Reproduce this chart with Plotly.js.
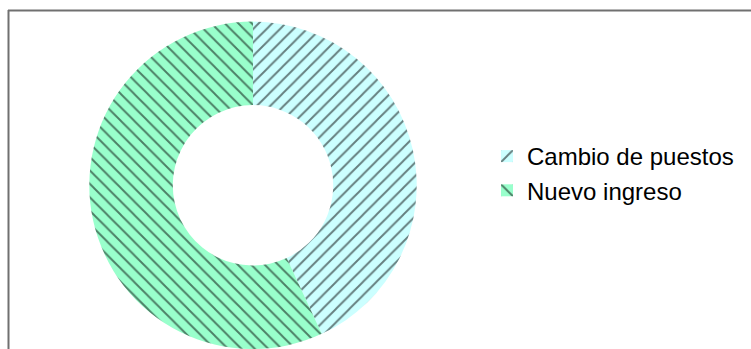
<!DOCTYPE html>
<html>
<head>
<meta charset="utf-8">
<script src="https://cdn.plot.ly/plotly-3.0.1.min.js"></script>
<style>html,body{margin:0;padding:0;background:#fff}#chart{width:751px;height:349px}</style>
</head>
<body>
<div id="chart"></div>
<script>
const categories = ["Cambio de puestos", "Nuevo ingreso"];
const values = [43.1, 56.9];
const sliceColors = ["#ccffff", "#99ffcc"];
const slicePatterns = ["/", "\\"];

const W = 751, H = 349;
const trace = {
  type: "pie",
  labels: categories,
  values: values,
  sort: false,
  direction: "clockwise",
  rotation: 0,
  hole: 0.49,
  textinfo: "none",
  hoverinfo: "label+percent",
  domain: {x: [(253 - 164) / W, (253 + 164) / W], y: [0, 327.4 / H]},
  marker: {
    colors: sliceColors,
    line: {width: 0},
    pattern: {shape: slicePatterns, fgcolor: "#000000", bgcolor: sliceColors, size: 9.5, solidity: 0.2, fillmode: "overlay"}
  }
};

const layout = {
  width: W, height: H,
  margin: {l: 0, r: 0, t: 0, b: 0},
  paper_bgcolor: "#ffffff",
  showlegend: true,
  legend: {
    x: 487 / W, xanchor: "left",
    y: (H - 173.5) / H, yanchor: "middle",
    font: {family: "Liberation Sans, Arial, sans-serif", size: 24, color: "#000000"},
    bgcolor: "rgba(0,0,0,0)", borderwidth: 0
  },
  shapes: [
    {type: "line", xref: "paper", yref: "paper", x0: 8.5 / W, x1: 8.5 / W, y0: (H - 10) / H, y1: 0, line: {color: "#707070", width: 2}},
    {type: "line", xref: "paper", yref: "paper", x0: 8 / W, x1: 1, y0: (H - 10.5) / H, y1: (H - 10.5) / H, line: {color: "#707070", width: 2}}
  ]
};

Plotly.newPlot("chart", [trace], layout, {displayModeBar: false, staticPlot: true});
</script>
</body>
</html>
